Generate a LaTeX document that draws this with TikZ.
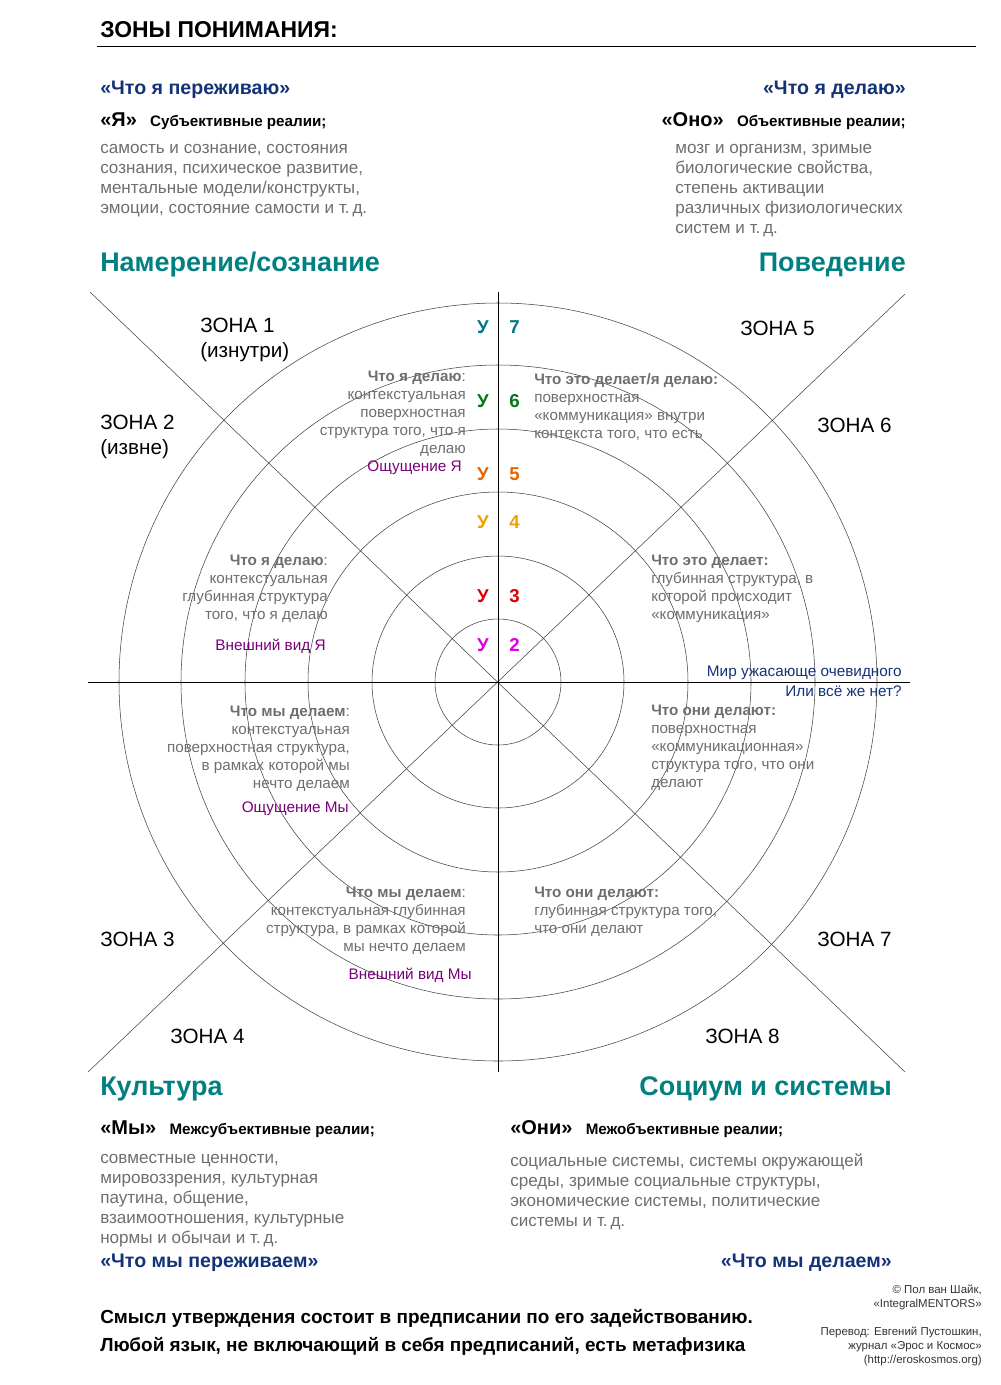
\documentclass[tikz,border=0pt]{standalone}
\usepackage{fontspec}
\setmainfont{Liberation Sans}
\definecolor{navy}{RGB}{20,50,120}
\definecolor{tealh}{RGB}{0,128,128}
\definecolor{graytx}{RGB}{110,110,110}
\definecolor{purp}{RGB}{120,0,120}
\definecolor{u7}{RGB}{0,120,130}
\definecolor{u6}{RGB}{0,120,20}
\definecolor{u5}{RGB}{230,100,0}
\definecolor{u4}{RGB}{240,160,0}
\definecolor{u3}{RGB}{220,0,0}
\definecolor{u2}{RGB}{220,0,220}
\tikzset{
  body/.style={text=graytx, font=\fontsize{12.8}{15}\selectfont, inner sep=0pt},
  blk/.style={text=graytx, font=\fontsize{11.4}{13.5}\selectfont, inner sep=0pt},
  zone/.style={font=\fontsize{15.5}{19}\selectfont, inner sep=0pt},
  head/.style={text=tealh, font=\bfseries\fontsize{20.2}{22}\selectfont, inner sep=0pt},
  quote/.style={text=navy, font=\bfseries\fontsize{14.7}{16}\selectfont, inner sep=0pt},
  lvl/.style={font=\bfseries\fontsize{14}{16}\selectfont, inner sep=0pt},
  feel/.style={font=\fontsize{11.5}{13}\selectfont, inner sep=0pt},
}
\newcommand{\realm}[2]{{\fontsize{15}{16}\selectfont\bfseries #1}\quad{\fontsize{11.4}{14}\selectfont\bfseries #2}}
\begin{document}
\begin{tikzpicture}[x={(0.75pt,0)},y={(0,-0.75pt)}]
\useasboundingbox (0,0) rectangle (1000,1385);
% header
\node[anchor=west, font=\bfseries\fontsize{17.2}{18}\selectfont, inner sep=0pt] (title) at (100,30) {ЗОНЫ ПОНИМАНИЯ:};
\draw (97,46) -- (976,46);
\node[quote, anchor=west] (q1) at (100,90) {«Что я переживаю»};
\node[quote, anchor=east] (q2) at (906,90) {«Что я делаю»};
\node[anchor=west, inner sep=0pt] (r1) at (100,121) {\realm{«Я»}{Субъективные реалии;}};
\node[anchor=east, inner sep=0pt] (r2) at (906,121) {\realm{«Оно»}{Объективные реалии;}};
\node[body, anchor=north west, align=left] (t1) at (100,144) {самость и сознание, состояния\\сознания, психическое развитие,\\ментальные модели/конструкты,\\эмоции, состояние самости и т.\,д.};
\node[body, anchor=north west, align=left] (t2) at (675,144) {мозг и организм, зримые\\биологические свойства,\\степень активации\\различных физиологических\\систем и т.\,д.};
\node[head, anchor=west] (h1) at (100,265) {Намерение/сознание};
\node[head, anchor=east] (h2) at (906,265) {Поведение};
% wheel
\coordinate (c) at (498,682);
\foreach \r in {63,126,190,253,317,379}
  \draw[black!75] (c) circle[radius=\r];
\draw[black!75] (90,292) -- (905,1072);
\draw[black!75] (88,1072) -- (905,294);
\draw (498,292) -- (498,1072);
\draw (88,682) -- (910,682);
% zones
\node[zone, anchor=west, align=left] (z1) at (200,340) {ЗОНА 1\\(изнутри)};
\node[zone, anchor=west, align=left] (z2) at (100,437) {ЗОНА 2\\(извне)};
\node[zone, anchor=west] (z5) at (740,328) {ЗОНА 5};
\node[zone, anchor=west] (z6) at (817,425) {ЗОНА 6};
\node[zone, anchor=west] (z3) at (100,939) {ЗОНА 3};
\node[zone, anchor=west] (z7) at (817,939) {ЗОНА 7};
\node[zone, anchor=west] (z4) at (170,1036) {ЗОНА 4};
\node[zone, anchor=west] (z8) at (705,1036) {ЗОНА 8};
% levels
\foreach \n/\yy in {7/327,6/401,5/474,4/522,3/596,2/645}{
  \node[lvl, text=u\n, anchor=east] (u\n) at (489,\yy) {У};
  \node[lvl, text=u\n, anchor=west] (n\n) at (509,\yy) {\n};
}
% quadrant texts
\node[blk, anchor=north east, align=right] (b1) at (466,371) {\textbf{Что я делаю}:\\контекстуальная\\поверхностная\\структура того, что я\\делаю};
\node[feel, text=purp, anchor=east] (f1) at (462,468) {Ощущение Я};
\node[blk, anchor=north west, align=left] (b2) at (534,373) {\textbf{Что это делает/я делаю:}\\поверхностная\\«коммуникация» внутри\\контекста того, что есть};
\node[blk, anchor=north east, align=right] (b3) at (328,555) {\textbf{Что я делаю}:\\контекстуальная\\глубинная структура\\того, что я делаю};
\node[feel, text=purp, anchor=east] (f2) at (326,646) {Внешний вид Я};
\node[blk, anchor=north west, align=left] (b4) at (651,555) {\textbf{Что это делает:}\\глубинная структура, в\\которой происходит\\«коммуникация»};
\node[feel, text=navy, anchor=east] (m1) at (902,673) {Мир ужасающе очевидного};
\node[feel, text=navy, anchor=east] (m2) at (902,691) {Или всё же нет?};
\node[blk, anchor=north east, align=right] (b5) at (350,706) {\textbf{Что мы делаем}:\\контекстуальная\\поверхностная структура,\\в рамках которой мы\\нечто делаем};
\node[feel, text=purp, anchor=east] (f3) at (349,809) {Ощущение Мы};
\node[blk, anchor=north west, align=left] (b6) at (651,705) {\textbf{Что они делают:}\\поверхностная\\«коммуникационная»\\структура того, что они\\делают};
\node[blk, anchor=north east, align=right] (b7) at (466,887) {\textbf{Что мы делаем}:\\контекстуальная глубинная\\структура, в рамках которой\\мы нечто делаем};
\node[feel, text=purp, anchor=east] (f4) at (472,975) {Внешний вид Мы};
\node[blk, anchor=north west, align=left] (b8) at (534,887) {\textbf{Что они делают:}\\глубинная структура того,\\что они делают};
% footer quadrants
\node[head, anchor=west] (h3) at (100,1089) {Культура};
\node[head, anchor=east] (h4) at (892,1089) {Социум и системы};
\node[anchor=west, inner sep=0pt] (r3) at (100,1129) {\realm{«Мы»}{Межсубъективные реалии;}};
\node[anchor=west, inner sep=0pt] (r4) at (510,1129) {\realm{«Они»}{Межобъективные реалии;}};
\node[body, anchor=north west, align=left] (t3) at (100,1154) {совместные ценности,\\мировоззрения, культурная\\паутина, общение,\\взаимоотношения, культурные\\нормы и обычаи и т.\,д.};
\node[body, anchor=north west, align=left] (t4) at (510,1154) {социальные системы, системы окружающей\\среды, зримые социальные структуры,\\экономические системы, политические\\системы и т.\,д.};
\node[quote, anchor=west] (q3) at (100,1263) {«Что мы переживаем»};
\node[quote, anchor=east] (q4) at (892,1263) {«Что мы делаем»};
\node[anchor=north west, align=left, font=\bfseries\fontsize{14.2}{21}\selectfont, inner sep=0pt] (mot) at (100,1309) {Смысл утверждения состоит в предписании по его задействованию.\\Любой язык, не включающий в себя предписаний, есть метафизика};
\node[anchor=north east, align=right, text=black!80, font=\fontsize{8.6}{10.5}\selectfont, inner sep=0pt] (cr) at (982,1285) {© Пол ван Шайк,\\«IntegralMENTORS»\\[10.5pt]Перевод: Евгений Пустошкин,\\журнал «Эрос и Космос»\\(http://eroskosmos.org)};
\end{tikzpicture}
\end{document}
